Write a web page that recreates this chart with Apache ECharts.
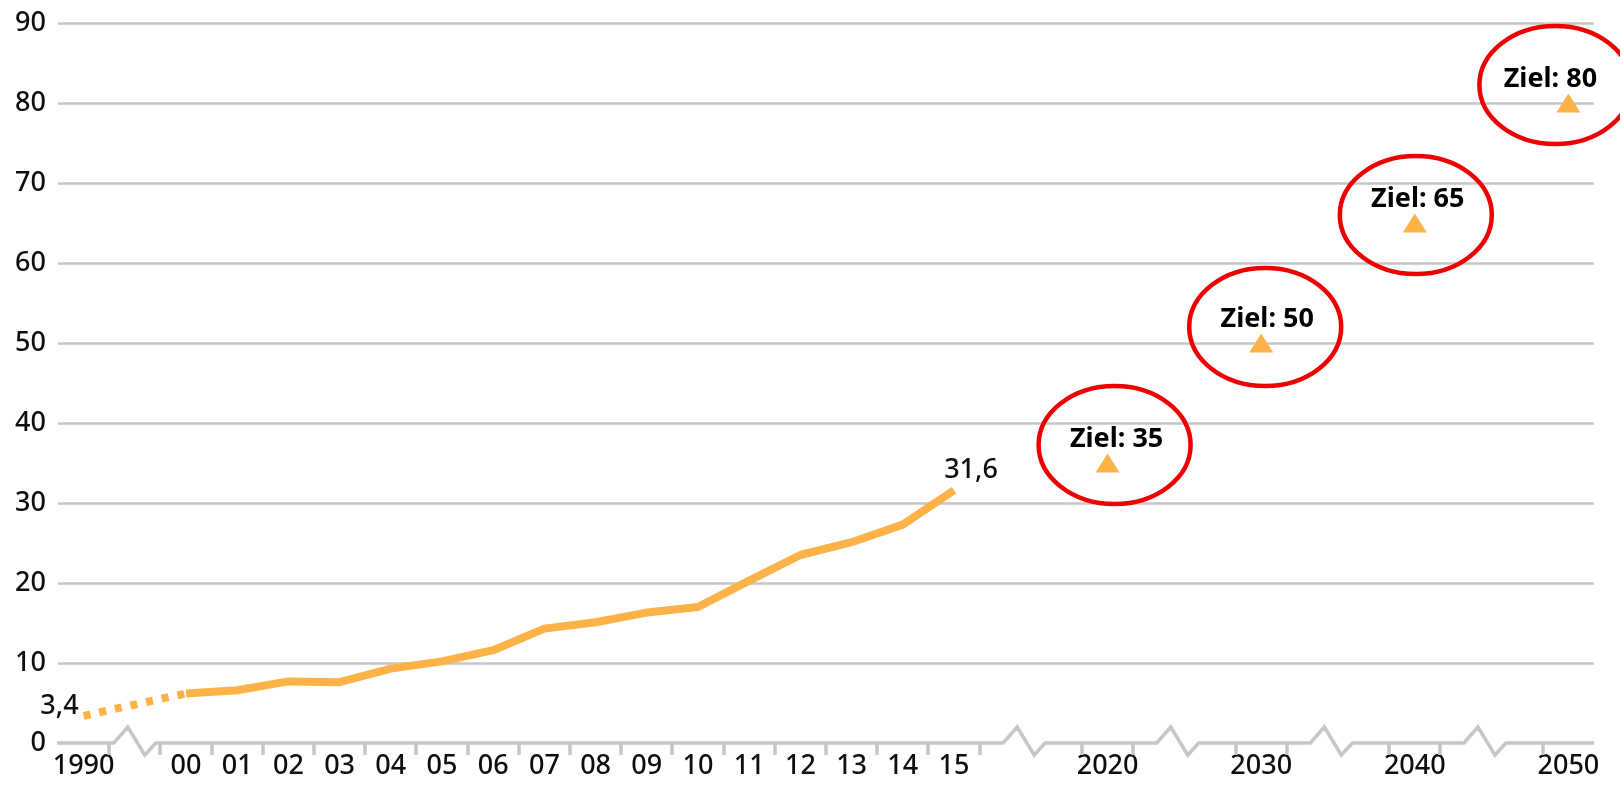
<!DOCTYPE html>
<html>
<head>
<meta charset="utf-8">
<script src="https://cdn.jsdelivr.net/npm/echarts@6/dist/echarts.min.js"></script>
<style>
  html, body { margin: 0; padding: 0; background: #ffffff; }
  #chart { width: 1620px; height: 787px; }
</style>
</head>
<body>
<div id="chart"></div>
<script>
// ---------------- data ----------------
const histYears  = ['1990', '00', '01', '02', '03', '04', '05', '06', '07', '08', '09', '10', '11', '12', '13', '14', '15'];
const histValues = [3.4, 6.2, 6.6, 7.7, 7.6, 9.3, 10.2, 11.6, 14.3, 15.1, 16.3, 17.0, 20.3, 23.5, 25.1, 27.3, 31.6];
const targetYears  = ['2020', '2030', '2040', '2050'];
const targetValues = [35, 50, 65, 80];
const yTickValues  = [0, 10, 20, 30, 40, 50, 60, 70, 80, 90];

// ---------------- layout of the broken time axis ----------------
// empty slots inserted before '00' and before every target year
const gapBefore = { '00': 1, '2020': 2, '2030': 2, '2040': 2, '2050': 2 };
const slotCats = [];
const breakCenters = [];
function pushYear(y) {
  const g = gapBefore[y] || 0;
  if (g) {
    const start = slotCats.length;
    for (let i = 0; i < g; i++) slotCats.push('');
    breakCenters.push(start + (g - 1) / 2 - (g - 1) * 0.13);
  }
  slotCats.push(y);
}
histYears.forEach(pushYear);
targetYears.forEach(pushYear);
const slotOf = y => slotCats.indexOf(y);
const lastSlot = slotCats.length - 1;
const tickSlots = [];
slotCats.forEach((c, i) => {
  if (!c) return;
  [i - 0.5, i + 0.5].forEach(b => {
    if (b > -0.5 && b < lastSlot + 0.5 && tickSlots.indexOf(b) < 0) tickSlots.push(b);
  });
});

const fmt = v => String(v).replace('.', ',');

// ---------------- styles ----------------
const ORANGE = '#FCB246';
const GRID_GREY = '#c6c6c6';
const TEXT = '#0d0d12';
const FONT = 'Noto Sans';
const FS = 27;
const ringShift = [[7, -18], [4, -16], [1, -8], [-13, -18]];
const targetLabelShift = [[9, 0], [6, 0], [3, 0], [-18, 0]];

const chart = echarts.init(document.getElementById('chart'), null, { renderer: 'canvas' });

const option = {
  animation: false,
  backgroundColor: '#ffffff',
  textStyle: { fontFamily: FONT },
  grid: { left: 58, right: 26, top: 23, bottom: 44, containLabel: false },
  xAxis: [
    {
      type: 'category',
      data: slotCats,
      boundaryGap: true,
      axisLine: { show: false },
      axisTick: { show: false },
      splitLine: { show: false },
      axisLabel: { interval: 0, color: TEXT, fontSize: FS, fontFamily: FONT, fontWeight: 500, margin: 10 }
    },
    {
      type: 'value',
      min: -0.5,
      max: lastSlot + 0.5,
      show: false
    }
  ],
  yAxis: {
    type: 'value',
    min: yTickValues[0],
    max: yTickValues[yTickValues.length - 1],
    interval: 10,
    axisLine: { show: false },
    axisTick: { show: false },
    axisLabel: { color: TEXT, fontSize: FS, fontFamily: FONT, fontWeight: 500, margin: 12 },
    splitLine: { show: true, showMinLine: false, lineStyle: { color: GRID_GREY, width: 2.5 } }
  },
  series: [
    // broken x axis line with zigzags and ticks
    {
      type: 'custom',
      xAxisIndex: 1,
      yAxisIndex: 0,
      silent: true,
      clip: false,
      z: 1,
      data: [[0, 0]],
      renderItem: function (params, api) {
        const y0 = api.coord([0, 0])[1];
        const px = s => api.coord([s, 0])[0];
        const pts = [[px(-0.5) - 1, y0]];
        breakCenters.forEach(c => {
          const xc = px(c);
          pts.push([xc - 21, y0], [xc - 7, y0 - 16], [xc + 10, y0 + 12], [xc + 21, y0]);
        });
        pts.push([px(lastSlot + 0.5), y0]);
        const children = [{
          type: 'polyline',
          shape: { points: pts },
          style: { stroke: GRID_GREY, lineWidth: 3.5, fill: 'none', lineJoin: 'miter' }
        }];
        tickSlots.forEach(t => {
          const x = Math.round(px(t));
          children.push({
            type: 'line',
            shape: { x1: x, y1: y0, x2: x, y2: y0 + 12 },
            style: { stroke: GRID_GREY, lineWidth: 3.5 }
          });
        });
        return { type: 'group', children: children };
      }
    },
    // dotted segment 1990 -> 2000
    {
      type: 'line',
      xAxisIndex: 1,
      yAxisIndex: 0,
      z: 3,
      data: [
        { value: [slotOf(histYears[0]), histValues[0]],
          label: { show: true, position: 'left', distance: 4, offset: [0, -9], formatter: p => fmt(p.value[1]) } },
        { value: [slotOf(histYears[1]), histValues[1]] }
      ],
      symbol: 'circle',
      symbolSize: 2,
      itemStyle: { color: 'rgba(0,0,0,0)' },
      lineStyle: { color: ORANGE, width: 8, type: [7, 9], cap: 'butt' },
      label: { show: false, color: TEXT, fontSize: FS, fontFamily: FONT, fontWeight: 500 }
    },
    // solid line 2000 -> 2015
    {
      type: 'line',
      xAxisIndex: 1,
      yAxisIndex: 0,
      z: 3,
      data: histYears.slice(1).map((y, i) => {
        const item = { value: [slotOf(y), histValues[i + 1]] };
        if (i === histYears.length - 2) {
          item.label = { show: true, position: 'top', distance: 5, offset: [17, 0], formatter: p => fmt(p.value[1]) };
        }
        return item;
      }),
      symbol: 'circle',
      symbolSize: 2,
      itemStyle: { color: 'rgba(0,0,0,0)' },
      lineStyle: { color: ORANGE, width: 8, cap: 'butt', join: 'round' },
      label: { show: false, color: TEXT, fontSize: FS, fontFamily: FONT, fontWeight: 500 }
    },
    // targets
    {
      type: 'scatter',
      xAxisIndex: 1,
      yAxisIndex: 0,
      z: 4,
      symbol: 'triangle',
      symbolSize: [24, 19],
      itemStyle: { color: ORANGE, opacity: 1 },
      data: targetYears.map((y, i) => ({
        value: [slotOf(y), targetValues[i]],
        label: { offset: targetLabelShift[i] }
      })),
      label: {
        show: true,
        position: 'top',
        distance: 1,
        formatter: p => 'Ziel: ' + fmt(p.value[1]),
        color: '#000000',
        opacity: 1,
        fontSize: FS,
        fontWeight: 'bold',
        fontFamily: FONT
      }
    },
    // red rings around the targets
    {
      type: 'custom',
      xAxisIndex: 1,
      yAxisIndex: 0,
      silent: true,
      clip: false,
      z: 5,
      data: targetYears.map((y, i) => [slotOf(y), targetValues[i]]),
      renderItem: function (params, api) {
        const p = api.coord([api.value(0), api.value(1)]);
        const sh = ringShift[params.dataIndex];
        return {
          type: 'ellipse',
          shape: { cx: p[0] + sh[0], cy: p[1] + sh[1], rx: 76, ry: 59 },
          style: { stroke: '#ee0000', lineWidth: 4.5, fill: 'none' }
        };
      }
    }
  ]
};

chart.setOption(option);
</script>
</body>
</html>
